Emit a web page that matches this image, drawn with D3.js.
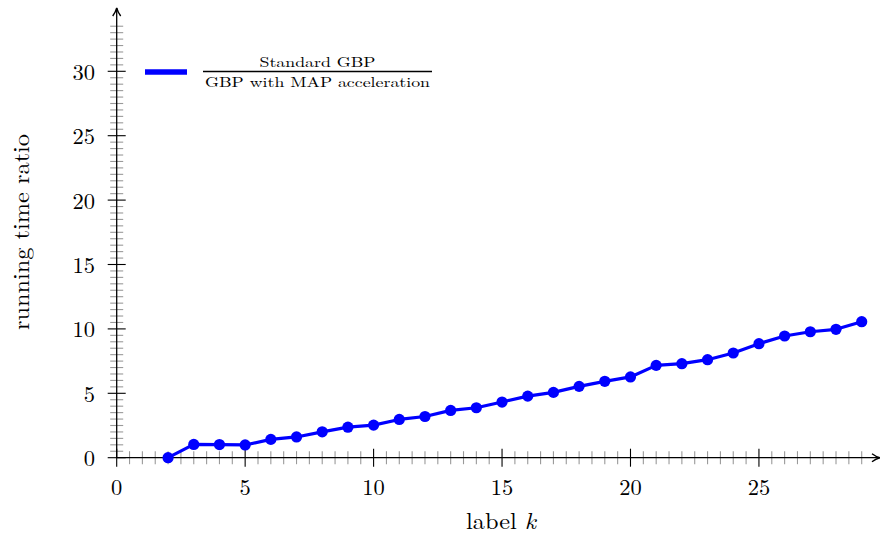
<!DOCTYPE html>
<html>
<head>
<meta charset="utf-8">
<script src="https://cdn.jsdelivr.net/npm/d3@7"></script>
<style>
  html, body { margin: 0; padding: 0; background: #fff; }
  svg { display: block; }
  text { font-family: "Latin Modern Roman", "CMU Serif", "Liberation Serif", serif; fill: #000; }
</style>
</head>
<body>
<svg id="chart" width="880" height="535"></svg>
<script>
// Label k and the ratio of running times (standard GBP / GBP with MAP acceleration)
const labels = [2, 3, 4, 5, 6, 7, 8, 9, 10, 11, 12, 13, 14, 15, 16, 17, 18, 19, 20, 21, 22, 23, 24, 25, 26, 27, 28, 29];
const ratios = [0, 1.03, 1.02, 0.99, 1.42, 1.61, 2.01, 2.37, 2.53, 2.97, 3.2, 3.67, 3.88, 4.32, 4.78, 5.07, 5.54, 5.93, 6.27, 7.17, 7.3, 7.61, 8.13, 8.85, 9.45, 9.78, 9.97, 10.56];
const xMajorTicks = [0, 5, 10, 15, 20, 25];
const yMajorTicks = [0, 5, 10, 15, 20, 25, 30];
const legendNumerator = "Standard GBP";
const legendDenominator = "GBP with MAP acceleration";
const xTitle = "label ";
const xTitleVar = "k";
const yTitle = "running time ratio";

const svg = d3.select("#chart");
const blue = "#0000ff";

const x = d3.scaleLinear().domain([0, 29]).range([116.7, 861.7]);
const y = d3.scaleLinear().domain([0, 30]).range([457.7, 71.3]);

const x0 = x(0), y0 = y(0);
const xEnd = 880, yEnd = 8;

// minor ticks every 0.5, major every 5
const xMinor = d3.range(0, 29.01, 0.5).filter(v => v % 5 !== 0);
const yMaxTick = y.invert(yEnd + 12);
const yMinor = d3.range(0, yMaxTick, 0.5).filter(v => v % 5 !== 0);

const ticks = svg.append("g");
ticks.selectAll("line.xminor").data(xMinor).join("line")
  .attr("x1", d => x(d)).attr("x2", d => x(d))
  .attr("y1", y0 - 6.5).attr("y2", y0 + 6.5)
  .attr("stroke", "#9a9a9a").attr("stroke-width", 1.1);
ticks.selectAll("line.yminor").data(yMinor).join("line")
  .attr("y1", d => y(d)).attr("y2", d => y(d))
  .attr("x1", x0 - 6.5).attr("x2", x0 + 6.5)
  .attr("stroke", "#9a9a9a").attr("stroke-width", 1.1);
ticks.selectAll("line.xmajor").data(xMajorTicks).join("line")
  .attr("x1", d => x(d)).attr("x2", d => x(d))
  .attr("y1", y0 - 9).attr("y2", y0 + 9)
  .attr("stroke", "#000").attr("stroke-width", 1.1);
ticks.selectAll("line.ymajor").data(yMajorTicks).join("line")
  .attr("y1", d => y(d)).attr("y2", d => y(d))
  .attr("x1", x0 - 9).attr("x2", x0 + 9)
  .attr("stroke", "#000").attr("stroke-width", 1.1);

// axis lines with arrow heads
const defs = svg.append("defs");
defs.append("marker")
  .attr("id", "arrow").attr("viewBox", "0 0 10 10")
  .attr("refX", 9).attr("refY", 5)
  .attr("markerWidth", 10).attr("markerHeight", 10)
  .attr("markerUnits", "userSpaceOnUse")
  .attr("orient", "auto")
  .append("path")
  .attr("d", "M1,1 Q5,4 9,5 Q5,6 1,9")
  .attr("fill", "none").attr("stroke", "#000").attr("stroke-width", 1.4);

svg.append("line")
  .attr("x1", x0).attr("x2", xEnd).attr("y1", y0).attr("y2", y0)
  .attr("stroke", "#000").attr("stroke-width", 1.3)
  .attr("marker-end", "url(#arrow)");
svg.append("line")
  .attr("x1", x0).attr("x2", x0).attr("y1", y0).attr("y2", yEnd)
  .attr("stroke", "#000").attr("stroke-width", 1.3)
  .attr("marker-end", "url(#arrow)");

// tick labels
svg.append("g").selectAll("text").data(xMajorTicks).join("text")
  .attr("x", d => x(d)).attr("y", 495)
  .attr("text-anchor", "middle")
  .attr("font-size", 22.5)
  .text(d => d);
svg.append("g").selectAll("text").data(yMajorTicks).join("text")
  .attr("x", 95).attr("y", d => y(d) + 8.5)
  .attr("text-anchor", "end")
  .attr("font-size", 22.5)
  .text(d => d);

// axis titles
const xt = svg.append("text")
  .attr("x", 501).attr("y", 529)
  .attr("text-anchor", "middle")
  .attr("font-size", 23)
  .attr("textLength", 70)
  .attr("lengthAdjust", "spacingAndGlyphs");
xt.append("tspan").text(xTitle);
xt.append("tspan").attr("font-style", "italic").text(xTitleVar);

svg.append("text")
  .attr("transform", "translate(29,232) rotate(-90)")
  .attr("text-anchor", "middle")
  .attr("font-size", 23)
  .attr("textLength", 196)
  .attr("lengthAdjust", "spacingAndGlyphs")
  .text(yTitle);

// data series
const line = d3.line().x((d, i) => x(labels[i])).y(d => y(d));
svg.append("path")
  .datum(ratios)
  .attr("d", line)
  .attr("fill", "none")
  .attr("stroke", blue)
  .attr("stroke-width", 3.2)
  .attr("stroke-linejoin", "round");
svg.append("g").selectAll("circle").data(ratios).join("circle")
  .attr("cx", (d, i) => x(labels[i]))
  .attr("cy", d => y(d))
  .attr("r", 5.6)
  .attr("fill", blue);

// legend: line sample and fraction label
const legend = svg.append("g");
legend.append("line")
  .attr("x1", 145).attr("x2", 187).attr("y1", 72).attr("y2", 72)
  .attr("stroke", blue).attr("stroke-width", 5.5);
const fracLeft = 203, fracRight = 432, fracMid = (fracLeft + fracRight) / 2;
legend.append("line")
  .attr("x1", fracLeft).attr("x2", fracRight).attr("y1", 71.5).attr("y2", 71.5)
  .attr("stroke", "#000").attr("stroke-width", 1.3);
const num = legend.append("text")
  .attr("x", fracMid).attr("y", 67)
  .attr("text-anchor", "middle")
  .attr("font-size", 14)
  .text(legendNumerator);
const den = legend.append("text")
  .attr("x", fracMid).attr("y", 87)
  .attr("text-anchor", "middle")
  .attr("font-size", 14)
  .text(legendDenominator);
// stretch the denominator across the fraction bar and keep the numerator in scale
const denW = den.node().getComputedTextLength();
const stretch = (fracRight - fracLeft - 4) / denW;
den.attr("textLength", fracRight - fracLeft - 4).attr("lengthAdjust", "spacingAndGlyphs");
num.attr("textLength", num.node().getComputedTextLength() * stretch).attr("lengthAdjust", "spacingAndGlyphs");
</script>
</body>
</html>
